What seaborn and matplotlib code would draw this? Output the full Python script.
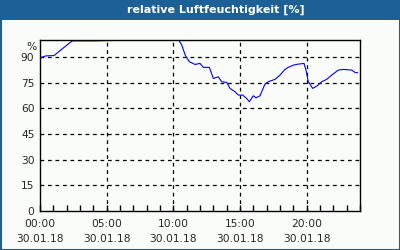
import numpy as np
import pandas as pd
import matplotlib
matplotlib.use("Agg")
import matplotlib.pyplot as plt
from matplotlib.patches import Rectangle
import seaborn as sns

# data: hours since 30.01.18 00:00, relative humidity in %
hours = [0.0, 0.15, 0.45, 1.05, 2.3, 2.45, 4.05, 4.1,
         10.35, 10.37, 10.63, 10.9, 11.2, 11.63, 12.0, 12.25, 12.7, 13.0, 13.37,
         13.63, 14.0, 14.25, 14.63, 14.87, 15.2, 15.5, 15.7, 16.0, 16.2,
         16.5, 16.87, 17.12, 17.63, 18.0, 18.37, 18.62, 19.0, 19.37, 19.8,
         19.95, 20.12, 20.45, 20.75, 21.13, 21.5, 21.88, 22.37, 22.75, 23.38,
         23.63, 23.83]
humidity = [88.9, 90.0, 90.7, 90.9, 98.8, 99.5, 99.5, np.nan,
            np.nan, 100.5, 97.0, 91.0, 87.3, 85.7, 86.3, 84.0, 84.0, 77.5, 78.5,
            75.6, 75.2, 71.7, 69.7, 67.8, 67.8, 65.8, 63.9, 67.4, 66.2,
            67.4, 74.2, 75.6, 77.0, 79.5, 82.8, 84.0, 85.3, 85.9, 86.3,
            82.4, 75.6, 71.7, 73.0, 75.6, 77.0, 79.5, 82.4, 82.8, 82.4,
            81.0, 80.8]
xtick_hours = [0, 5, 10, 15, 20]
xtick_labels = ["00:00\n30.01.18", "05:00\n30.01.18", "10:00\n30.01.18",
                "15:00\n30.01.18", "20:00\n30.01.18"]
ytick_values = [0, 15, 30, 45, 60, 75, 90]
title = "relative Luftfeuchtigkeit [%]"

BLUE = "#1d6096"
BG = "#fafcfa"

sns.set_style("white")
plt.rcParams["font.family"] = ["DejaVu Sans"]

df = pd.DataFrame({"h": hours, "rh": humidity})

fig = plt.figure(figsize=(4, 2.5), dpi=100, facecolor=BG)
ax = fig.add_axes([40 / 400, 39 / 250, 320 / 400, 171 / 250])
ax.set_facecolor(BG)

sns.lineplot(data=df, x="h", y="rh", ax=ax, color="#0000ff", linewidth=0.8,
             estimator=None, sort=False)

ax.set_xlim(0, 24)
ax.set_ylim(0, 100)
ax.set_xticks(xtick_hours)
ax.set_xticklabels(xtick_labels, fontsize=7.7, linespacing=1.6)
ax.set_xticks(np.arange(0, 25, 1), minor=True)
ax.set_yticks(ytick_values)
ax.set_yticklabels([str(v) for v in ytick_values], fontsize=7.7)
ax.set_xlabel("")
ax.set_ylabel("")

ax.tick_params(axis="x", which="both", direction="in", length=4, width=1,
               color="black", pad=6, bottom=True, top=False)
ax.tick_params(axis="y", length=0, pad=4)

for s in ax.spines.values():
    s.set_visible(True)
    s.set_color("black")
    s.set_linewidth(1.0)

for v in ytick_values[1:]:
    ax.axhline(v, color="black", linewidth=0.9, linestyle=(0, (3, 3)), zorder=0)
for h in xtick_hours[1:]:
    ax.axvline(h, color="black", linewidth=0.9, linestyle=(0, (3, 3)), zorder=0)

ax.text(-0.012, 96, "%", transform=ax.get_yaxis_transform(), ha="right",
        va="center", fontsize=7.7)

# title bar and frame
fig.patches.append(Rectangle((0, 230 / 250), 1, 20 / 250, transform=fig.transFigure,
                             facecolor=BLUE, edgecolor="none", zorder=0))
fig.patches.append(Rectangle((0.5 / 400, 0.5 / 250), 399 / 400, 249 / 250,
                             transform=fig.transFigure, facecolor="none",
                             edgecolor=BLUE, linewidth=1.5, zorder=1))
fig.text(216 / 400, 240 / 250, title, color="white", fontsize=8, fontweight="bold",
         ha="center", va="center")

fig.savefig("out.png", dpi=100, facecolor=BG)
